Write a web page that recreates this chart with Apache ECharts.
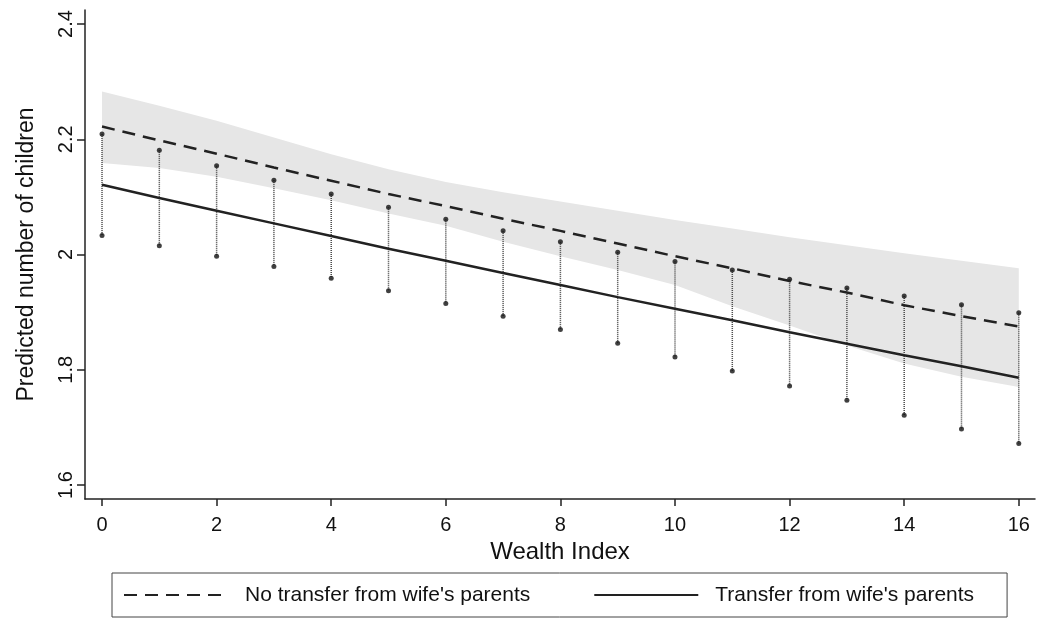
<!DOCTYPE html>
<html>
<head>
<meta charset="utf-8">
<script src="https://cdn.jsdelivr.net/npm/echarts@6/dist/echarts.min.js"></script>
<style>
html,body{margin:0;padding:0;background:#fff;}
#chart{width:1039px;height:619px;}
</style>
</head>
<body>
<div id="chart"></div>
<script>
// ---- data ----
const wealth = [0,1,2,3,4,5,6,7,8,9,10,11,12,13,14,15,16];
const noTransfer = [2.222,2.198,2.175,2.151,2.128,2.105,2.084,2.062,2.041,2.019,1.997,1.976,1.954,1.934,1.912,1.893,1.875];
const transfer   = [2.121,2.098,2.076,2.054,2.032,2.010,1.989,1.968,1.947,1.926,1.906,1.886,1.865,1.845,1.825,1.806,1.786];
const upperDots  = [2.209,2.181,2.154,2.129,2.105,2.082,2.061,2.041,2.022,2.004,1.988,1.973,1.957,1.942,1.928,1.913,1.899];
const lowerDots  = [2.033,2.015,1.997,1.979,1.959,1.937,1.915,1.893,1.870,1.846,1.822,1.798,1.772,1.747,1.721,1.697,1.672];
const bandUpper  = [2.283,2.258,2.232,2.203,2.174,2.148,2.126,2.108,2.092,2.076,2.060,2.045,2.030,2.016,2.002,1.989,1.976];
const bandLower  = [2.159,2.150,2.135,2.115,2.094,2.071,2.050,2.022,1.997,1.973,1.947,1.910,1.877,1.842,1.811,1.788,1.770];
const xTicks = [0,2,4,6,8,10,12,14,16];
const yTicks = [1.6,1.8,2,2.2,2.4];
const nameNo = "No transfer from wife's parents";
const nameYes = "Transfer from wife's parents";

const FONT = "'Liberation Sans', Arial, Helvetica, sans-serif";
const pair = (arr) => wealth.map((w, i) => [w, arr[i]]);
const bandData = wealth.map((w, i) => [w, bandLower[i], bandUpper[i]]);
const segs = wealth.map((w, i) => [w, upperDots[i], lowerDots[i]]);

const chart = echarts.init(document.getElementById('chart'), null, {renderer: 'canvas'});
chart.setOption({
  animation: false,
  backgroundColor: '#ffffff',
  textStyle: {fontFamily: FONT},
  grid: {left: 85, right: 4, top: 10, bottom: 120, containLabel: false},
  xAxis: {
    type: 'value', min: -0.297, max: 16.283,
    name: 'Wealth Index', nameLocation: 'middle', nameGap: 38,
    nameTextStyle: {fontSize: 24, color: '#111', fontFamily: FONT},
    axisLine: {show: true, onZero: false, lineStyle: {color: '#222', width: 1.5}},
    axisTick: {show: true, length: 7, lineStyle: {color: '#222', width: 1.5}, customValues: xTicks},
    axisLabel: {fontSize: 20, color: '#111', margin: 16, fontFamily: FONT, customValues: xTicks},
    splitLine: {show: false}
  },
  yAxis: {
    type: 'value', min: 1.5757, max: 2.4243,
    name: 'Predicted number of children', nameLocation: 'middle', nameGap: 47,
    nameTextStyle: {fontSize: 23, color: '#111', fontFamily: FONT},
    axisLine: {show: true, onZero: false, lineStyle: {color: '#222', width: 1.5}},
    axisTick: {show: true, length: 8, lineStyle: {color: '#222', width: 1.5}, customValues: yTicks},
    axisLabel: {fontSize: 20, color: '#111', margin: 9, rotate: 90, fontFamily: FONT, customValues: yTicks},
    splitLine: {show: false}
  },
  legend: {
    data: [nameNo, nameYes],
    left: 112, top: 573,
    orient: 'horizontal',
    padding: [11, 33, 11, 11],
    itemGap: 63,
    itemWidth: 104, itemHeight: 14,
    borderColor: '#444', borderWidth: 1, borderRadius: 0,
    itemStyle: {opacity: 0},
    textStyle: {fontSize: 21, color: '#111', lineHeight: 22, padding: [0, 0, 0, 12], fontFamily: FONT},
    selectedMode: false
  },
  series: [
    {
      name: 'band', type: 'custom', data: bandData, z: 1, silent: true, clip: true,
      renderItem: function (params, api) {
        if (params.dataIndex !== 0) return null;
        const top = [], bot = [];
        for (let i = 0; i < wealth.length; i++) {
          top.push(api.coord([wealth[i], bandUpper[i]]));
          bot.push(api.coord([wealth[i], bandLower[i]]));
        }
        const pts = top.concat(bot.reverse());
        return {
          type: 'polygon',
          shape: {points: pts},
          style: {fill: '#e6e6e6', stroke: null}
        };
      }
    },
    {
      name: 'spans', type: 'custom', data: segs, z: 3, silent: true,
      renderItem: function (params, api) {
        const p1 = api.coord([api.value(0), api.value(1)]);
        const p2 = api.coord([api.value(0), api.value(2)]);
        return {
          type: 'line',
          shape: {x1: p1[0], y1: p1[1], x2: p2[0], y2: p2[1]},
          style: {stroke: '#444', lineWidth: 1.5, lineDash: [1, 1]}
        };
      }
    },
    {
      name: 'upper', type: 'scatter', data: pair(upperDots),
      symbol: 'circle', symbolSize: 5, itemStyle: {color: '#111'}, z: 4, silent: true
    },
    {
      name: 'lower', type: 'scatter', data: pair(lowerDots),
      symbol: 'circle', symbolSize: 5, itemStyle: {color: '#111'}, z: 4, silent: true
    },
    {
      name: nameNo, type: 'line', data: pair(noTransfer),
      symbol: 'none', lineStyle: {color: '#222', width: 2.5, type: [13, 8]},
      itemStyle: {color: '#222'}, z: 5
    },
    {
      name: nameYes, type: 'line', data: pair(transfer),
      symbol: 'none', lineStyle: {color: '#222', width: 2.5, type: 'solid'},
      itemStyle: {color: '#222'}, z: 5
    }
  ]
});
</script>
</body>
</html>
